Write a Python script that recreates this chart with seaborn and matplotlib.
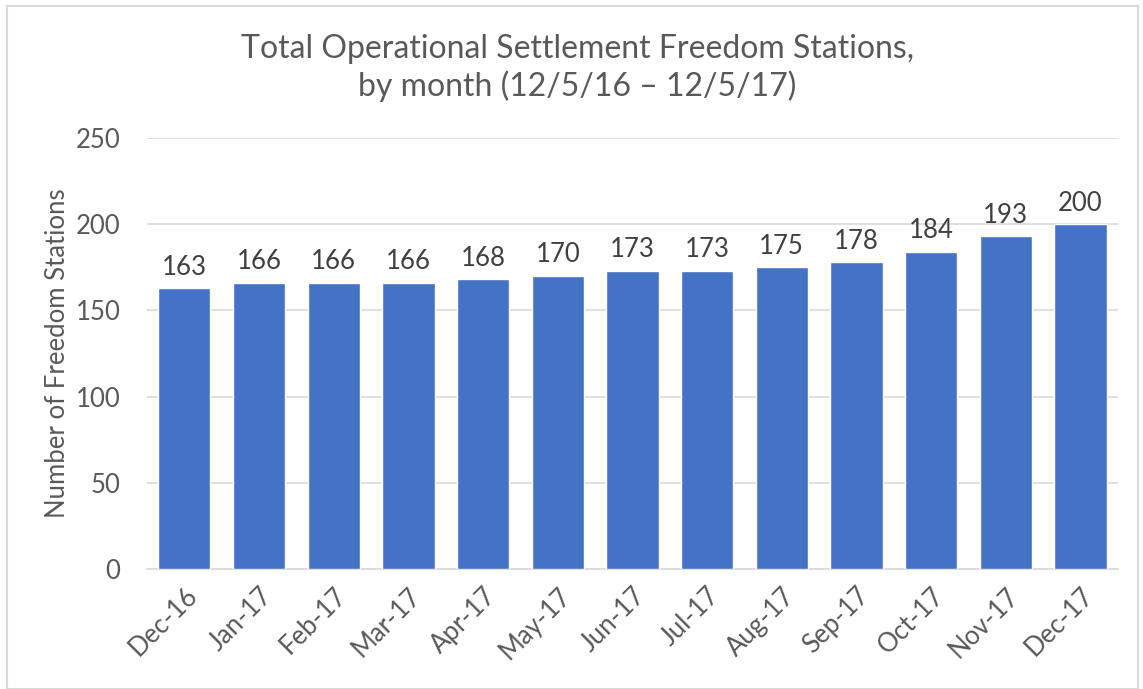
import numpy as np
import pandas as pd
import matplotlib
matplotlib.use("Agg")
import matplotlib.pyplot as plt
import seaborn as sns

# values
months = ["Dec-16", "Jan-17", "Feb-17", "Mar-17", "Apr-17", "May-17", "Jun-17",
          "Jul-17", "Aug-17", "Sep-17", "Oct-17", "Nov-17", "Dec-17"]
stations = [163, 166, 166, 166, 168, 170, 173, 173, 175, 178, 184, 193, 200]
y_ticks = [0, 50, 100, 150, 200, 250]

title = "Total Operational Settlement Freedom Stations,\nby month (12/5/16 \u2013 12/5/17)"
y_label = "Number of Freedom Stations"

sns.set_theme(style="white")
plt.rcParams["font.family"] = ["Lato", "DejaVu Sans"]

text_gray = "#595959"
bar_blue = "#4472C4"
grid_gray = "#D9D9D9"

df = pd.DataFrame({"month": months, "stations": stations})

fig = plt.figure(figsize=(11.43, 6.89), dpi=100)
ax = fig.add_axes([0.1286, 0.174, 0.8494, 0.626])

sns.barplot(data=df, x="month", y="stations", color=bar_blue, saturation=1,
            width=0.7, ax=ax, zorder=3)

ax.set_ylim(0, 250)
ax.set_xlim(-0.5, len(months) - 0.5)
ax.set_yticks(y_ticks)
ax.yaxis.grid(True, color=grid_gray, linewidth=1.2, zorder=0)
ax.set_axisbelow(True)
for side in ["top", "right", "left"]:
    ax.spines[side].set_visible(False)
ax.spines["bottom"].set_color(grid_gray)
ax.spines["bottom"].set_linewidth(1.2)

ax.tick_params(axis="both", length=0, labelsize=18.5, colors=text_gray, pad=10)
ax.tick_params(axis="y", pad=19)
plt.setp(ax.get_xticklabels(), rotation=45, ha="right", rotation_mode="anchor")

ax.set_xlabel("")
ax.set_ylabel(y_label, fontsize=18.5, color=text_gray, labelpad=4)

# data labels
for container in ax.containers:
    ax.bar_label(container, labels=[str(v) for v in stations], padding=6,
                 fontsize=18.5, color="#404040")

fig.suptitle(title, fontsize=23, color=text_gray, x=0.505, y=0.95,
             linespacing=1.25)

# light border round the whole chart
fig.patches.append(plt.Rectangle((0.006, 0.0), 0.99, 0.991, transform=fig.transFigure,
                                 fill=False, edgecolor=grid_gray, linewidth=1.5))

fig.savefig("out.png", dpi=100)
